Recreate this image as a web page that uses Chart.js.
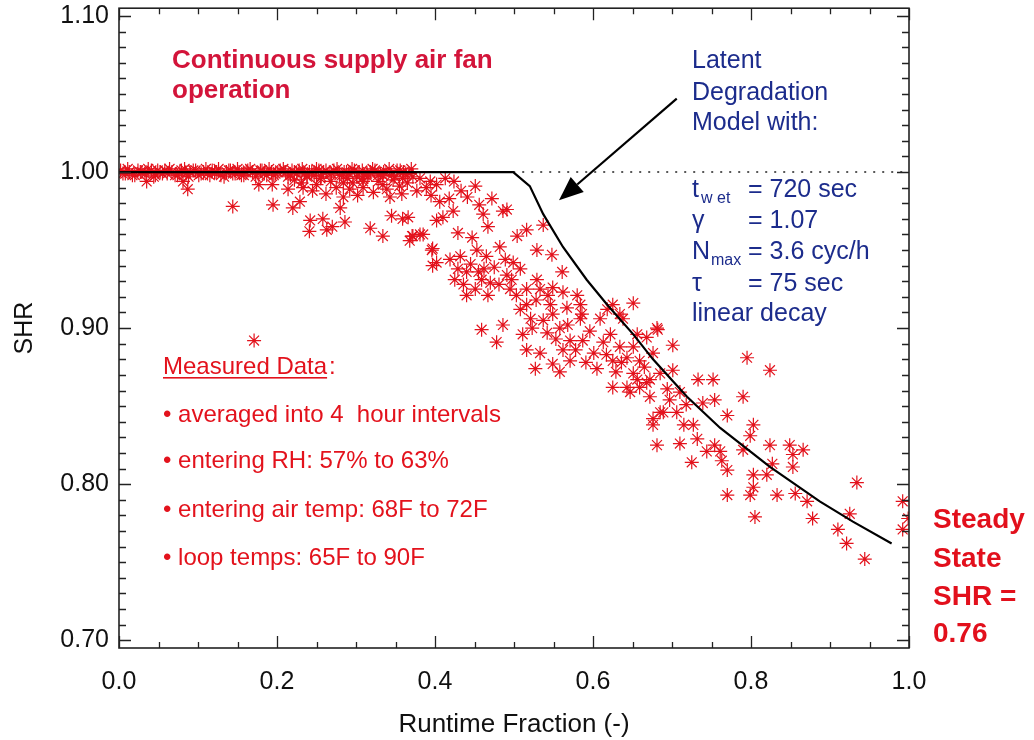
<!DOCTYPE html>
<html>
<head>
<meta charset="utf-8">
<script src="https://cdn.jsdelivr.net/npm/chart.js@4/dist/chart.umd.min.js"></script>
<style>
  html, body { margin: 0; padding: 0; background: #fff; }
  canvas { display: block; }
</style>
</head>
<body>
<canvas id="shr" width="1034" height="740"></canvas>
<script>
// --- axis ticks
const xTicks = [0.0, 0.2, 0.4, 0.6, 0.8, 1.0];
const yTicks = [0.70, 0.80, 0.90, 1.00, 1.10];

// --- latent degradation model curve (black)
const modelX = [0.0, 0.499, 0.520, 0.537, 0.562, 0.592, 0.618, 0.651, 0.676, 0.719, 0.761, 0.824, 0.887, 0.929, 0.978];
const modelY = [1.0, 1.0, 0.991, 0.973, 0.952, 0.931, 0.915, 0.896, 0.880, 0.856, 0.836, 0.811, 0.789, 0.776, 0.762];

// dotted reference at SHR = 1
const refX = [0.499, 1.0];
const refY = [1.0, 1.0];

// --- measured data (red asterisks), 4 hour averages
const measX = [
  // dense band at SHR ~ 1.00
  0.002, 0.008, 0.013, 0.017, 0.024, 0.029, 0.033, 0.041, 0.046, 0.052, 0.058, 0.061, 0.067, 0.074, 0.079, 0.085,
  0.090, 0.094, 0.101, 0.107, 0.112, 0.118, 0.123, 0.129, 0.136, 0.141, 0.147, 0.152, 0.158, 0.163, 0.169, 0.176,
  0.181, 0.187, 0.193, 0.198, 0.204, 0.211, 0.217, 0.222, 0.228, 0.235, 0.241, 0.247, 0.253, 0.259, 0.266, 0.272,
  0.279, 0.285, 0.291, 0.298, 0.304, 0.311, 0.318, 0.324, 0.331, 0.338, 0.345, 0.352, 0.360, 0.367,
  0.005, 0.011, 0.020, 0.027, 0.037, 0.044, 0.049, 0.055, 0.064, 0.071, 0.077, 0.083, 0.088, 0.097, 0.104, 0.110,
  0.115, 0.121, 0.126, 0.133, 0.139, 0.144, 0.150, 0.155, 0.161, 0.166, 0.173, 0.179, 0.184, 0.190, 0.196, 0.201,
  0.208, 0.214, 0.219, 0.225, 0.232, 0.238, 0.244, 0.250, 0.256, 0.262, 0.269, 0.276, 0.282, 0.288, 0.295, 0.301,
  0.308, 0.314, 0.321, 0.328, 0.335, 0.342, 0.349, 0.356, 0.363, 0.370,
  // scatter
  0.035, 0.081, 0.087, 0.144, 0.171, 0.177, 0.194, 0.195, 0.214, 0.220, 0.229, 0.233, 0.242, 0.241, 0.250, 0.258,
  0.263, 0.270, 0.280, 0.284, 0.286, 0.292, 0.284, 0.309, 0.309, 0.308, 0.318, 0.334, 0.334, 0.334, 0.343, 0.345,
  0.359, 0.368, 0.371, 0.381, 0.358, 0.377, 0.394, 0.396, 0.397, 0.402, 0.359, 0.402, 0.406, 0.451, 0.366, 0.410,
  0.423, 0.461, 0.486, 0.491, 0.467, 0.537, 0.372, 0.385, 0.397, 0.402, 0.429, 0.447, 0.432, 0.429, 0.440, 0.440,
  0.453, 0.465, 0.482, 0.504, 0.499, 0.508, 0.529, 0.548, 0.459, 0.470, 0.467, 0.491, 0.495, 0.516, 0.529, 0.516,
  0.533, 0.543, 0.549, 0.561, 0.562, 0.546, 0.549, 0.567, 0.580, 0.584, 0.586, 0.568, 0.558, 0.459, 0.486, 0.478,
  0.511, 0.523, 0.516, 0.533, 0.527, 0.549, 0.558, 0.571, 0.571, 0.587, 0.596, 0.601, 0.613, 0.584, 0.609, 0.618,
  0.625, 0.634, 0.651, 0.622, 0.625, 0.634, 0.643, 0.651, 0.651, 0.659, 0.656, 0.668, 0.676, 0.681, 0.701, 0.659,
  0.625, 0.647, 0.672, 0.685, 0.701, 0.697, 0.685, 0.710, 0.638, 0.682, 0.656, 0.643, 0.668, 0.733, 0.752, 0.795,
  0.824, 0.790, 0.754, 0.739, 0.706, 0.689, 0.770, 0.676, 0.676, 0.727, 0.803, 0.799, 0.681, 0.710, 0.732, 0.754,
  0.761, 0.744, 0.790, 0.824, 0.849, 0.866, 0.853, 0.853, 0.725, 0.763, 0.770, 0.803, 0.820, 0.827, 0.803, 0.770,
  0.799, 0.833, 0.871, 0.805, 0.878, 0.934, 0.925, 0.910, 0.921, 0.944, 0.992, 0.992, 0.999, 0.856,
  0.347, 0.355, 0.365, 0.372, 0.381, 0.389, 0.395, 0.413, 0.424, 0.433, 0.418, 0.441, 0.456, 0.472,
  0.222, 0.231, 0.238, 0.245, 0.255, 0.262, 0.268, 0.275, 0.289, 0.296, 0.302, 0.315, 0.322, 0.328, 0.339,
  0.419, 0.425, 0.436, 0.445, 0.451, 0.455, 0.462, 0.475, 0.481, 0.489, 0.497, 0.503, 0.508, 0.521, 0.528, 0.537,
  0.542, 0.553, 0.562, 0.578, 0.591, 0.605, 0.617, 0.629, 0.636, 0.665, 0.672, 0.694, 0.718, 0.715, 0.516
];
const measY = [
  1.001, 0.999, 1.000, 0.998, 1.001, 1.000, 0.999, 1.001, 0.998, 1.000, 1.001, 0.999, 1.000, 0.998, 1.001, 0.999,
  1.000, 1.001, 0.998, 1.000, 0.999, 1.001, 1.000, 0.998, 1.000, 1.001, 0.999, 1.000, 0.998, 1.001, 1.000, 0.999,
  1.001, 0.998, 1.000, 0.999, 1.001, 1.000, 0.998, 1.000, 1.001, 0.999, 1.000, 0.998, 1.001, 1.000, 0.999, 1.001,
  0.998, 1.000, 0.999, 1.001, 1.000, 0.998, 1.000, 1.001, 0.999, 1.000, 0.998, 1.001, 1.000, 0.999,
  0.999, 1.002, 0.998, 1.000, 1.002, 0.997, 1.001, 0.999, 1.002, 0.998, 1.000, 1.002, 0.997, 1.001, 0.999, 1.002,
  0.998, 1.000, 1.002, 0.997, 1.001, 0.999, 1.002, 0.998, 1.000, 1.002, 0.997, 1.001, 0.999, 1.002, 0.998, 1.000,
  1.002, 0.997, 1.001, 0.999, 1.002, 0.998, 1.000, 1.002, 0.997, 1.001, 0.999, 1.002, 0.998, 1.000, 1.002, 0.997,
  1.001, 0.999, 1.002, 0.998, 1.000, 1.002, 0.997, 1.001, 0.999, 1.002,
  0.994, 0.994, 0.989, 0.978, 0.892, 0.992, 0.992, 0.979, 0.989, 0.977, 0.981, 0.990, 0.969, 0.962, 0.992, 0.970,
  0.963, 0.965, 0.977, 0.984, 0.968, 0.989, 0.993, 0.994, 0.990, 0.996, 0.964, 0.959, 0.992, 0.998, 0.984, 0.972,
  0.970, 0.956, 0.959, 0.960, 0.986, 0.988, 0.994, 0.950, 0.940, 0.969, 0.996, 0.992, 0.981, 0.991, 0.971, 0.971,
  0.975, 0.973, 0.975, 0.976, 0.965, 0.966, 0.959, 0.960, 0.951, 0.942, 0.961, 0.958, 0.946, 0.938, 0.936, 0.921,
  0.950, 0.946, 0.952, 0.959, 0.942, 0.938, 0.950, 0.947, 0.931, 0.929, 0.921, 0.934, 0.925, 0.925, 0.931, 0.915,
  0.925, 0.921, 0.926, 0.936, 0.923, 0.915, 0.909, 0.913, 0.921, 0.915, 0.909, 0.902, 0.900, 0.899, 0.902, 0.891,
  0.896, 0.900, 0.886, 0.884, 0.874, 0.877, 0.872, 0.879, 0.892, 0.892, 0.898, 0.884, 0.891, 0.906, 0.906, 0.912,
  0.915, 0.909, 0.916, 0.896, 0.879, 0.888, 0.881, 0.888, 0.871, 0.879, 0.896, 0.894, 0.884, 0.900, 0.889, 0.862,
  0.862, 0.859, 0.867, 0.871, 0.873, 0.854, 0.846, 0.859, 0.906, 0.899, 0.867, 0.862, 0.865, 0.867, 0.867, 0.881,
  0.873, 0.856, 0.854, 0.852, 0.846, 0.846, 0.844, 0.842, 0.838, 0.838, 0.838, 0.831, 0.825, 0.826, 0.829, 0.825,
  0.821, 0.821, 0.822, 0.825, 0.825, 0.822, 0.819, 0.811, 0.814, 0.815, 0.809, 0.806, 0.806, 0.813, 0.798, 0.793,
  0.793, 0.793, 0.789, 0.779, 0.778, 0.801, 0.781, 0.771, 0.762, 0.752, 0.789, 0.771, 0.778, 0.794,
  0.995, 0.991, 0.993, 0.997, 0.996, 0.990, 0.985, 0.996, 0.994, 0.988, 0.983, 0.984, 0.979, 0.983,
  0.995, 0.993, 0.997, 0.988, 0.996, 0.986, 0.994, 0.990, 0.996, 0.993, 0.985, 0.997, 0.987, 0.994, 0.989,
  0.944, 0.931, 0.928, 0.941, 0.925, 0.936, 0.938, 0.939, 0.928, 0.944, 0.931, 0.921, 0.912, 0.906, 0.918, 0.905,
  0.897, 0.893, 0.886, 0.886, 0.878, 0.874, 0.883, 0.872, 0.878, 0.875, 0.856, 0.861, 0.851, 0.838, 0.963
];

// arrow pointing at the model curve (data units)
const arrowFrom = [0.706, 1.047];
const arrowTo = [0.557, 0.982];

const RED = '#e3121c';
const TITLE_RED = '#d3143a';
const BLUE = '#1c2c8c';
const FONT = '"Liberation Sans", Arial, sans-serif';

function pairs(xs, ys) {
  return xs.map((x, i) => ({ x: x, y: ys[i] }));
}

// box with inward ticks on all four sides, like the original IDL plot
const frameTicks = {
  id: 'frameTicks',
  afterDatasetsDraw(chart) {
    const { ctx, chartArea: a, scales: { x, y } } = chart;
    ctx.save();
    ctx.strokeStyle = '#222';
    ctx.lineWidth = 1.6;
    ctx.strokeRect(a.left, a.top, a.right - a.left, a.bottom - a.top);
    ctx.lineWidth = 1.3;
    ctx.beginPath();
    for (let i = 0; i <= 20; i++) {
      const px = Math.round(x.getPixelForValue(i * 0.05)) + 0.5;
      const len = i % 4 === 0 ? 12 : 6;
      ctx.moveTo(px, a.bottom); ctx.lineTo(px, a.bottom - len);
      ctx.moveTo(px, a.top); ctx.lineTo(px, a.top + len);
    }
    for (let i = 70; i <= 110; i++) {
      const py = Math.round(y.getPixelForValue(i / 100)) + 0.5;
      const len = i % 10 === 0 ? 12 : 7;
      ctx.moveTo(a.left, py); ctx.lineTo(a.left + len, py);
      ctx.moveTo(a.right, py); ctx.lineTo(a.right - len, py);
    }
    ctx.stroke();

    // arrow
    const x0 = x.getPixelForValue(arrowFrom[0]), y0 = y.getPixelForValue(arrowFrom[1]);
    const x1 = x.getPixelForValue(arrowTo[0]), y1 = y.getPixelForValue(arrowTo[1]);
    const ang = Math.atan2(y1 - y0, x1 - x0);
    const head = 24, half = 10;
    const bx = x1 - head * Math.cos(ang), by = y1 - head * Math.sin(ang);
    ctx.strokeStyle = '#000';
    ctx.lineWidth = 2.2;
    ctx.beginPath();
    ctx.moveTo(x0, y0); ctx.lineTo(bx, by);
    ctx.stroke();
    ctx.fillStyle = '#000';
    ctx.beginPath();
    ctx.moveTo(x1, y1);
    ctx.lineTo(bx + half * Math.sin(ang), by - half * Math.cos(ang));
    ctx.lineTo(bx - half * Math.sin(ang), by + half * Math.cos(ang));
    ctx.closePath();
    ctx.fill();
    ctx.restore();
  }
};

// annotation text
const notes = {
  id: 'notes',
  afterDraw(chart) {
    const ctx = chart.ctx;
    ctx.save();
    ctx.textBaseline = 'alphabetic';
    ctx.textAlign = 'left';

    ctx.fillStyle = TITLE_RED;
    ctx.font = 'bold 26px ' + FONT;
    ctx.fillText('Continuous supply air fan', 172, 68);
    ctx.fillText('operation', 172, 98);

    ctx.fillStyle = RED;
    ctx.font = '24px ' + FONT;
    ctx.fillText('Measured Data', 163, 374);
    const w = ctx.measureText('Measured Data').width;
    ctx.fillText(':', 163 + w + 2, 374);
    ctx.fillRect(163, 377, w, 1.6);
    ctx.fillText('\u2022 averaged into 4  hour intervals', 163, 422);
    ctx.fillText('\u2022 entering RH: 57% to 63%', 163, 468);
    ctx.fillText('\u2022 entering air temp: 68F to 72F', 163, 517);
    ctx.fillText('\u2022 loop temps: 65F to 90F', 163, 565);

    ctx.fillStyle = BLUE;
    ctx.font = '25px ' + FONT;
    ctx.fillText('Latent', 692, 68);
    ctx.fillText('Degradation', 692, 100);
    ctx.fillText('Model with:', 692, 130);
    ctx.fillText('t', 692, 197);
    ctx.fillText('\u03b3', 692, 228);
    ctx.fillText('N', 692, 259);
    ctx.fillText('\u03c4', 692, 291);
    ctx.fillText('= 720 sec', 748, 197);
    ctx.fillText('= 1.07', 748, 228);
    ctx.fillText('= 3.6 cyc/h', 748, 259);
    ctx.fillText('= 75 sec', 748, 291);
    ctx.fillText('linear decay', 692, 321);
    ctx.font = '16px ' + FONT;
    ctx.fillText('w et', 701, 203);
    ctx.fillText('max', 711, 265);

    ctx.fillStyle = '#e2101c';
    ctx.font = 'bold 28px ' + FONT;
    ctx.fillText('Steady', 933, 528);
    ctx.fillText('State', 933, 567);
    ctx.fillText('SHR =', 933, 605);
    ctx.fillText('0.76', 933, 642);
    ctx.restore();
  }
};

new Chart(document.getElementById('shr'), {
  type: 'scatter',
  data: {
    datasets: [
      {
        label: 'Model',
        data: pairs(modelX, modelY),
        showLine: true,
        borderColor: '#000',
        borderWidth: 2.2,
        pointRadius: 0,
        tension: 0
      },
      {
        label: 'SHR = 1',
        data: pairs(refX, refY),
        showLine: true,
        borderColor: '#222',
        borderWidth: 1.6,
        borderDash: [2, 7],
        pointRadius: 0
      },
      {
        label: 'Measured',
        data: pairs(measX, measY),
        pointStyle: 'star',
        pointRadius: 7,
        borderColor: RED,
        backgroundColor: RED,
        borderWidth: 1.2
      }
    ]
  },
  options: {
    responsive: false,
    animation: false,
    layout: { padding: { top: 7, right: 125, left: 0, bottom: 0 } },
    plugins: { legend: { display: false }, tooltip: { enabled: false } },
    scales: {
      x: {
        type: 'linear',
        min: 0, max: 1,
        afterBuildTicks: s => { s.ticks = xTicks.map(v => ({ value: v })); },
        afterFit: s => { s.height = 92; s.paddingLeft = 0; s.paddingRight = 0; },
        grid: { display: false, drawTicks: false },
        border: { display: false },
        ticks: {
          padding: 19,
          color: '#111',
          font: { family: FONT, size: 25 },
          callback: v => Number(v).toFixed(1)
        },
        title: {
          display: true,
          text: 'Runtime Fraction (-)',
          color: '#111',
          font: { family: FONT, size: 26 },
          padding: { top: 0, bottom: 0 }
        }
      },
      y: {
        type: 'linear',
        min: 0.695, max: 1.105,
        afterBuildTicks: s => { s.ticks = yTicks.map(v => ({ value: v })); },
        afterFit: s => { s.width = 119; s.paddingTop = 0; s.paddingBottom = 0; },
        grid: { display: false, drawTicks: false },
        border: { display: false },
        ticks: {
          padding: 10,
          color: '#111',
          font: { family: FONT, size: 25 },
          callback: v => Number(v).toFixed(2)
        },
        title: {
          display: true,
          text: 'SHR',
          color: '#111',
          font: { family: FONT, size: 25 },
          padding: { top: 10, bottom: 0 }
        }
      }
    }
  },
  plugins: [frameTicks, notes]
});
</script>
</body>
</html>
